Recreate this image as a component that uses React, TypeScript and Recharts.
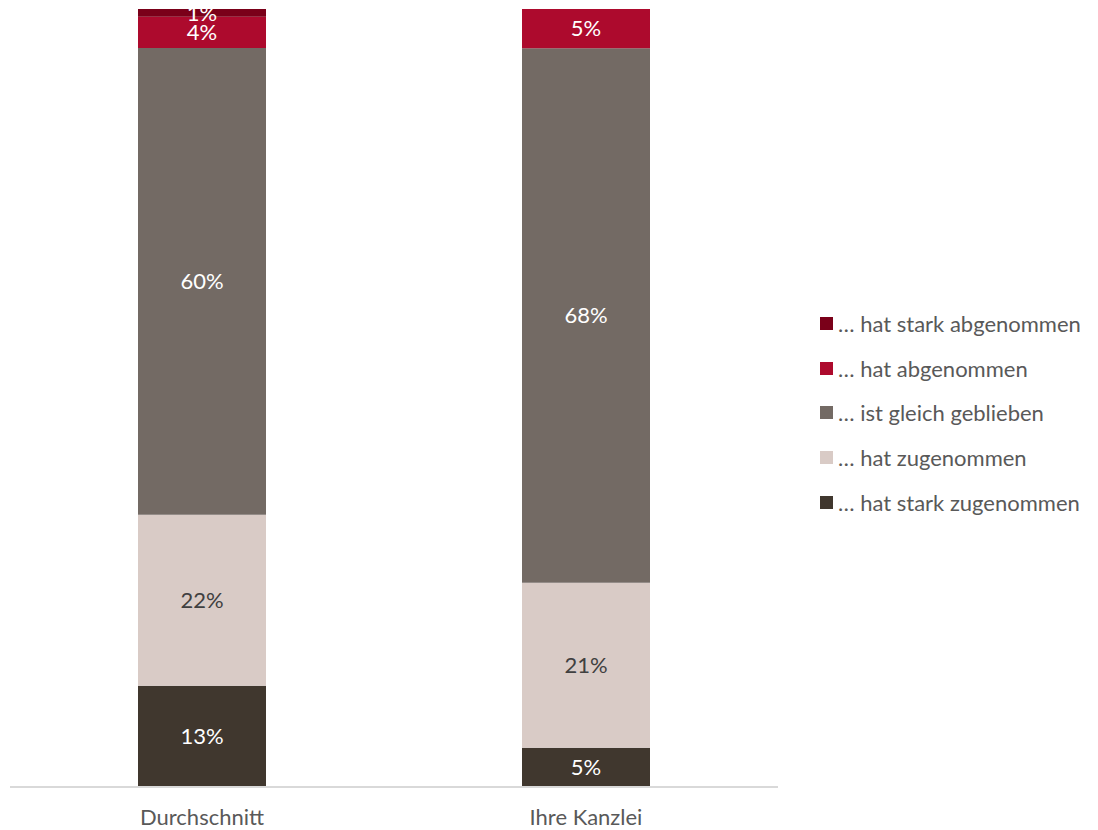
import { Bar, BarChart, LabelList, XAxis, YAxis } from "recharts";

const categories = ["Durchschnitt", "Ihre Kanzlei"];
const starkZugenommen = [13, 5];
const zugenommen = [22, 21];
const gleichGeblieben = [60, 68];
const abgenommen = [4, 5];
const starkAbgenommen = [1, 0];

const seriesList = [
  { key: "sz", name: "… hat stark zugenommen", values: starkZugenommen, color: "#40372e", text: "#ffffff" },
  { key: "z", name: "… hat zugenommen", values: zugenommen, color: "#d9cbc6", text: "#404040" },
  { key: "g", name: "… ist gleich geblieben", values: gleichGeblieben, color: "#736a64", text: "#ffffff" },
  { key: "a", name: "… hat abgenommen", values: abgenommen, color: "#ad0a2d", text: "#ffffff" },
  { key: "sa", name: "… hat stark abgenommen", values: starkAbgenommen, color: "#7a0019", text: "#ffffff" }
];

const data = categories.map((label, i) => {
  const row: Record<string, string | number> = { label };
  seriesList.forEach((s) => {
    row[s.key] = s.values[i];
  });
  return row;
});

const font = "Lato, sans-serif";

function LegendBox() {
  return (
    <div style={{ position: "absolute", left: 820, top: 301, fontFamily: font }}>
      {[...seriesList].reverse().map((s) => (
        <div
          key={s.key}
          style={{ display: "flex", alignItems: "center", height: 44.8, fontSize: 22, color: "#595959", whiteSpace: "nowrap" }}
        >
          <span style={{ width: 13, height: 13, background: s.color, marginRight: 5, display: "inline-block" }} />
          <span>{s.name}</span>
        </div>
      ))}
    </div>
  );
}

export default function App() {
  return (
    <div style={{ position: "absolute", left: 0, top: 0, width: 1098, height: 830, background: "#fff" }}>
      <BarChart
        width={1098}
        height={830}
        data={data}
        stackOffset="expand"
        margin={{ top: 9, right: 320, bottom: 0, left: 10 }}
      >
        <XAxis
          dataKey="label"
          height={43}
          axisLine={{ stroke: "#d9d9d9", strokeWidth: 2 }}
          tickLine={false}
          tickSize={0}
          tickMargin={22}
          tick={{ fill: "#595959", fontSize: 22, fontFamily: font }}
        />
        <YAxis hide domain={[0, 1]} />
        {seriesList.map((s) => (
          <Bar key={s.key} dataKey={s.key} name={s.name} stackId="a" fill={s.color} barSize={128} isAnimationActive={false}>
            <LabelList
              dataKey={s.key}
              position="center"
              fill={s.text}
              fontSize={22}
              fontFamily={font}
              formatter={(v: any) => (v ? `${v}%` : "")}
            />
          </Bar>
        ))}
      </BarChart>
      <LegendBox />
    </div>
  );
}
